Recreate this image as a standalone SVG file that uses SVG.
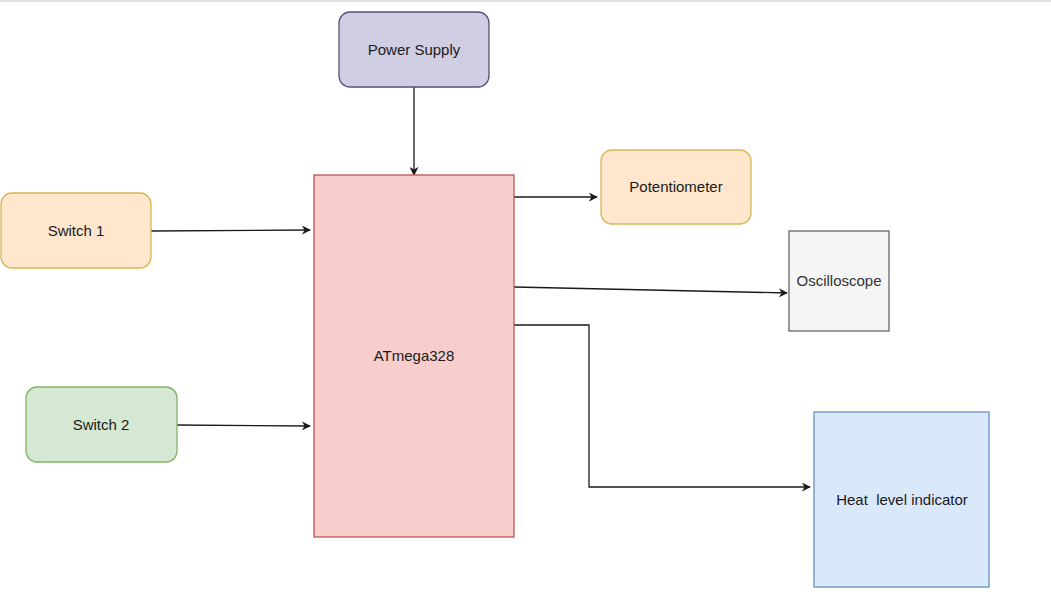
<svg xmlns="http://www.w3.org/2000/svg" width="1051" height="596" viewBox="0 0 1051 596">
<style>
text{font-family:"Liberation Sans",Arial,sans-serif;font-size:15px;fill:#1a1a1a;text-anchor:middle;dominant-baseline:central}
.c{fill:none;stroke:#1a1a1a;stroke-width:1.3;marker-end:url(#arr)}
</style>
<defs>
<marker id="arr" viewBox="0 0 10 10" refX="9" refY="5" markerWidth="9" markerHeight="9" markerUnits="userSpaceOnUse" orient="auto">
<path d="M0,0 L10,5 L0,10 L3,5 Z" fill="#1a1a1a"/>
</marker>
</defs>
<rect width="1051" height="596" fill="#ffffff"/>
<line x1="0" y1="1" x2="1051" y2="1" stroke="#d9d9d9" stroke-width="1.5"/>
<g id="connectors">
<path class="c" d="M414,87 L414,175"/>
<path class="c" d="M151,231 L310,230"/>
<path class="c" d="M177,425 L310,426"/>
<path class="c" d="M514,197 L597,197"/>
<path class="c" d="M514,287 L787,293"/>
<path class="c" d="M514,325 L589,325 L589,487 L810,487"/>
</g>
<g id="power-supply">
<rect x="339" y="12" width="150" height="75" rx="11" fill="#d0cee2" stroke="#56517e" stroke-width="1.3"/>
<text x="414" y="49">Power Supply</text>
</g>
<g id="atmega328">
<rect x="314" y="175" width="200" height="362" fill="#f8cecc" stroke="#b85450" stroke-width="1.3"/>
<text x="414" y="355">ATmega328</text>
</g>
<g id="switch1">
<rect x="1" y="193" width="150" height="75" rx="11" fill="#ffe6cc" stroke="#d6b656" stroke-width="1.3"/>
<text x="76" y="230">Switch 1</text>
</g>
<g id="switch2">
<rect x="26" y="387" width="151" height="75" rx="11" fill="#d5e8d4" stroke="#82b366" stroke-width="1.3"/>
<text x="101" y="424">Switch 2</text>
</g>
<g id="potentiometer">
<rect x="601" y="150" width="150" height="74" rx="11" fill="#ffe6cc" stroke="#d6b656" stroke-width="1.3"/>
<text x="676" y="186">Potentiometer</text>
</g>
<g id="oscilloscope">
<rect x="789" y="231" width="100" height="100" fill="#f5f5f5" stroke="#666666" stroke-width="1.3"/>
<text x="839" y="280" style="fill:#333333">Oscilloscope</text>
</g>
<g id="heat-level-indicator">
<rect x="814" y="412" width="175" height="175" fill="#dae8fc" stroke="#6c8ebf" stroke-width="1.3"/>
<text x="902" y="499" xml:space="preserve">Heat  level indicator</text>
</g>
</svg>
